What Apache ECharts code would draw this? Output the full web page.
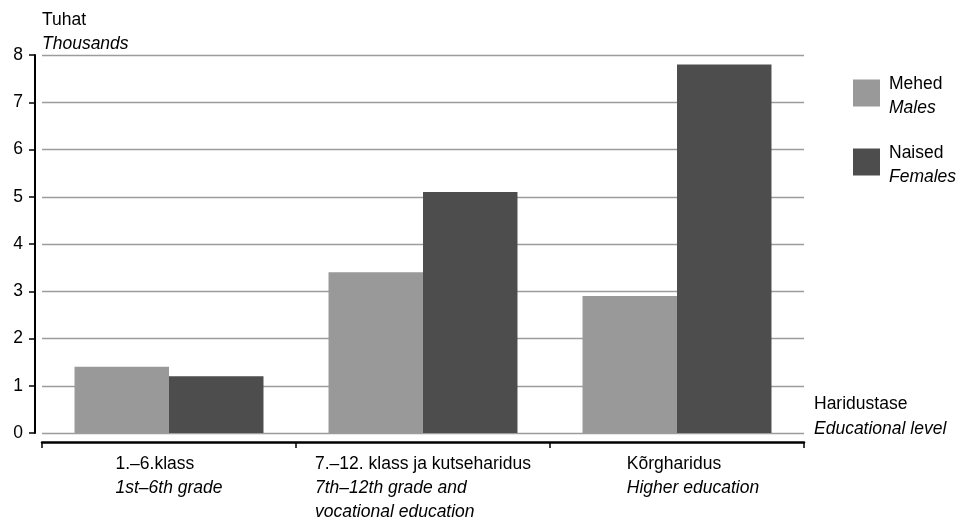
<!DOCTYPE html>
<html>
<head>
<meta charset="utf-8">
<script src="https://cdn.jsdelivr.net/npm/echarts@6/dist/echarts.min.js"></script>
<style>html,body{margin:0;padding:0;background:#fff}#c{width:964px;height:519px}</style>
</head>
<body>
<div id="c"></div>
<script>
var categoriesEt = ['1.–6.klass', '7.–12. klass ja kutseharidus', 'Kõrgharidus'];
var categoriesEn = ['1st–6th grade', '7th–12th grade and\nvocational education', 'Higher education'];
var males = [1.4, 3.4, 2.9];
var females = [1.2, 5.1, 7.8];
var seriesNamesEt = ['Mehed', 'Naised'];
var seriesNamesEn = ['Males', 'Females'];
var yTicks = [0, 1, 2, 3, 4, 5, 6, 7, 8];

var FONT = '"Liberation Sans", Arial, sans-serif';
var FS = 17.5;
var chart = echarts.init(document.getElementById('c'), null, {renderer: 'canvas'});

function richSet(lh) {
  return {
    a: {fontFamily: FONT, fontSize: FS, color: '#000', lineHeight: lh, align: 'left', fontWeight: 'normal'},
    b: {fontFamily: FONT, fontSize: FS, color: '#000', lineHeight: lh, fontStyle: 'italic', align: 'left', fontWeight: 'normal'}
  };
}

var xData = categoriesEt.map(function (c, i) {
  if (i === 2) return {value: c, textStyle: {padding: [0, 0, 0, 32]}};
  return c;
});

var option = {
  animation: false,
  backgroundColor: '#fff',
  title: [
    {text: '{a|Tuhat}\n{b|Thousands}', left: 42, top: 8.5, padding: 0,
     textStyle: {fontWeight: 'normal', rich: richSet(24)}},
    {text: '{a|Haridustase}\n{b|Educational level}', left: 814, top: 392, padding: 0,
     textStyle: {fontWeight: 'normal', rich: richSet(25)}}
  ],
  legend: {
    orient: 'vertical', left: 853, top: 75, padding: 0,
    itemWidth: 27, itemHeight: 27, itemGap: 27, icon: 'rect',
    data: seriesNamesEt,
    formatter: function (name) {
      var i = seriesNamesEt.indexOf(name);
      return '{a|' + name + '}\n{b|' + seriesNamesEn[i] + '}';
    },
    textStyle: {padding: [6, 0, 0, 4], rich: richSet(24)}
  },
  grid: {left: 42, right: 160, top: 55, bottom: 86, containLabel: false, outerBoundsMode: 'none'},
  xAxis: {
    type: 'category', data: xData, offset: 9,
    axisLine: {onZero: false, lineStyle: {color: '#000', width: 2.5}},
    axisTick: {show: true, length: 6, lineStyle: {color: '#000', width: 1.5}},
    axisLabel: {
      margin: 10, interval: 0,
      formatter: function (v, i) {
        var idx = categoriesEt.indexOf(v);
        var en = categoriesEn[idx].split('\n').map(function (s) { return '{b|' + s + '}'; }).join('\n');
        return '{a|' + v + '}\n' + en;
      },
      rich: richSet(24.2)
    }
  },
  yAxis: {
    type: 'value', min: yTicks[0], max: yTicks[yTicks.length - 1], interval: 1, offset: 7,
    axisLine: {show: true, lineStyle: {color: '#000', width: 2}},
    axisTick: {show: true, length: 6, lineStyle: {color: '#000', width: 1.5}},
    axisLabel: {margin: 12, fontSize: FS, fontFamily: FONT, color: '#000'},
    splitLine: {lineStyle: {color: '#9c9c9c', width: 1.3}}
  },
  series: [
    {name: seriesNamesEt[0], type: 'bar', data: males, barGap: '0%', barCategoryGap: '25.6%',
     itemStyle: {color: '#999999'}},
    {name: seriesNamesEt[1], type: 'bar', data: females, barGap: '0%', barCategoryGap: '25.6%',
     itemStyle: {color: '#4d4d4d'}}
  ]
};
chart.setOption(option);
</script>
</body>
</html>
